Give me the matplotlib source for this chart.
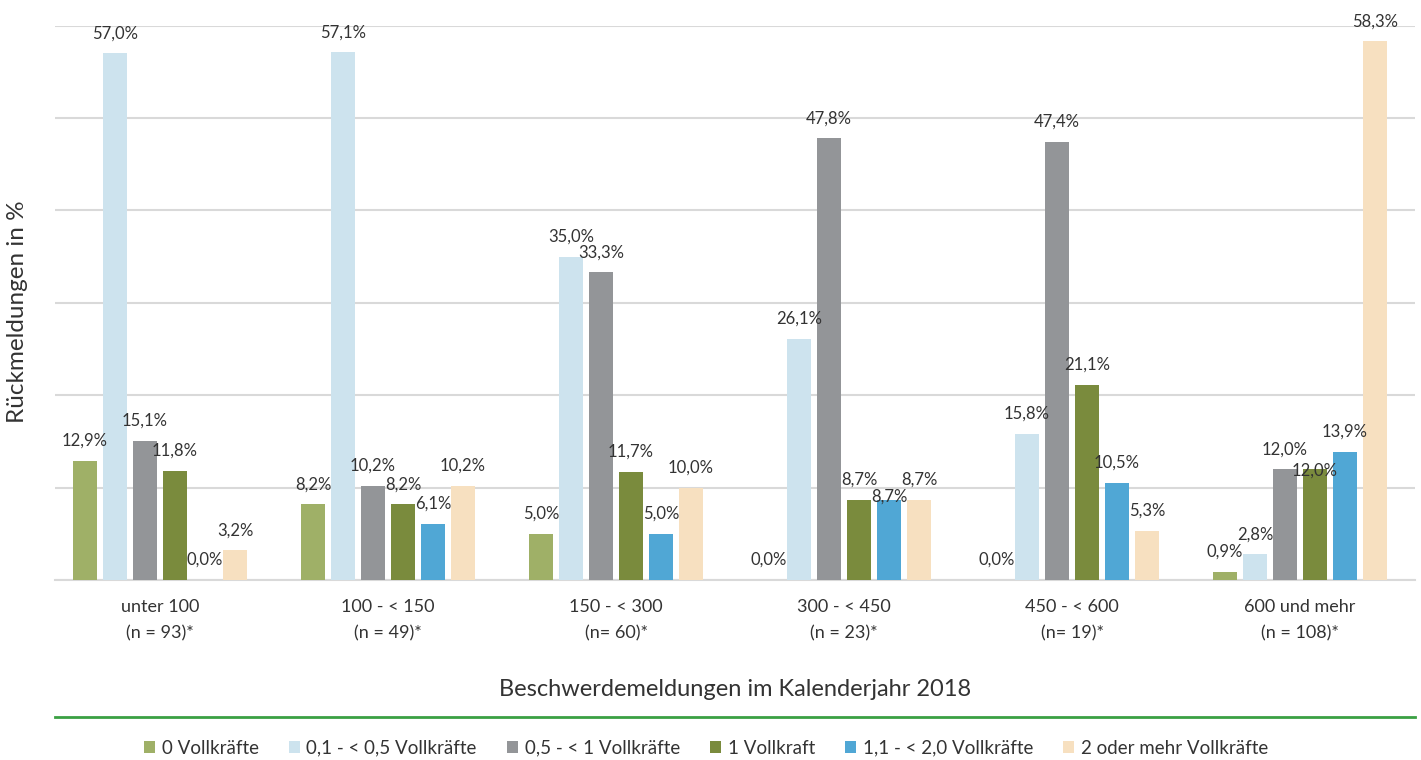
import matplotlib
matplotlib.use("Agg")
import matplotlib.pyplot as plt
import numpy as np

categories = ["unter 100\n(n = 93)*", "100 - < 150\n(n = 49)*", "150 - < 300\n(n= 60)*",
              "300 - < 450\n(n = 23)*", "450 - < 600\n(n= 19)*", "600 und mehr\n(n = 108)*"]
series_names = ["0 Vollkräfte", "0,1 - < 0,5 Vollkräfte", "0,5 - < 1 Vollkräfte",
                "1 Vollkraft", "1,1 - < 2,0 Vollkräfte", "2 oder mehr Vollkräfte"]
s0 = [12.9, 8.2, 5.0, 0.0, 0.0, 0.9]
s1 = [57.0, 57.1, 35.0, 26.1, 15.8, 2.8]
s2 = [15.1, 10.2, 33.3, 47.8, 47.4, 12.0]
s3 = [11.8, 8.2, 11.7, 8.7, 21.1, 12.0]
s4 = [0.0, 6.1, 5.0, 8.7, 10.5, 13.9]
s5 = [3.2, 10.2, 10.0, 8.7, 5.3, 58.3]
series = [s0, s1, s2, s3, s4, s5]
colors = ["#9fb067", "#cde3ee", "#939598", "#7a8b3d", "#50a7d5", "#f7e0c0"]

plt.rcParams['font.family'] = ['Lato', 'DejaVu Sans']
fig = plt.figure(figsize=(14.21, 7.60), dpi=100)
ax = fig.add_axes([55/1421, 1-580/760, 1360/1421, (580-25.7)/760])

x = np.arange(len(categories))
step = 0.1316
width = 0.105
# label vertical offsets in pixels (default 20 above), overrides for overlap avoidance
label_off = {(3, 4): 3, (5, 3): -1}
for i, (vals, col, name) in enumerate(zip(series, colors, series_names)):
    pos = x + (i - 2.5) * step
    ax.bar(pos, vals, width=width, color=col, label=name, zorder=3)
    for j, (p, v) in enumerate(zip(pos, vals)):
        off = label_off.get((j, i), 20)
        ax.annotate(f"{v:.1f}%".replace(".", ","), (p, v), xytext=(0, off * 0.72),
                    textcoords="offset points", ha="center", va="center",
                    fontsize=12, color="#333333", zorder=5)

ax.set_ylim(0, 60)
ax.set_xlim(-0.4605, 5.504)
ax.set_yticks(np.arange(0, 61, 10))
ax.yaxis.grid(True, color="#d9d9d9", linewidth=1.5, zorder=0)
ax.tick_params(axis="y", left=False, labelleft=False)
ax.tick_params(axis="x", length=0, pad=14, labelsize=13, labelcolor="#333333")
ax.set_xticks(x)
ax.set_xticklabels(categories, linespacing=1.75)
for sp in ["top", "right", "left"]:
    ax.spines[sp].set_visible(False)
ax.spines["bottom"].set_color("#d9d9d9")
ax.spines["bottom"].set_linewidth(1.5)

fig.text(735/1421, 1-690/760, "Beschwerdemeldungen im Kalenderjahr 2018", ha="center", va="center",
         fontsize=17, color="#333333")
fig.text(18/1421, 1-312/760, "Rückmeldungen in %", ha="center", va="center", rotation=90,
         fontsize=17.5, color="#333333")

fig.add_artist(plt.Line2D([55/1421, 1415/1421], [1-717/760, 1-717/760], color="#3aa043", linewidth=2))

handles, labels = ax.get_legend_handles_labels()
fig.legend(handles, labels, loc="center", bbox_to_anchor=(706/1421, 1-748/760), ncol=6, frameon=False,
           fontsize=13.5, handlelength=0.6, handleheight=0.6, handletextpad=0.35, columnspacing=1.6,
           labelcolor="#333333")

fig.savefig("out.png", dpi=100)
